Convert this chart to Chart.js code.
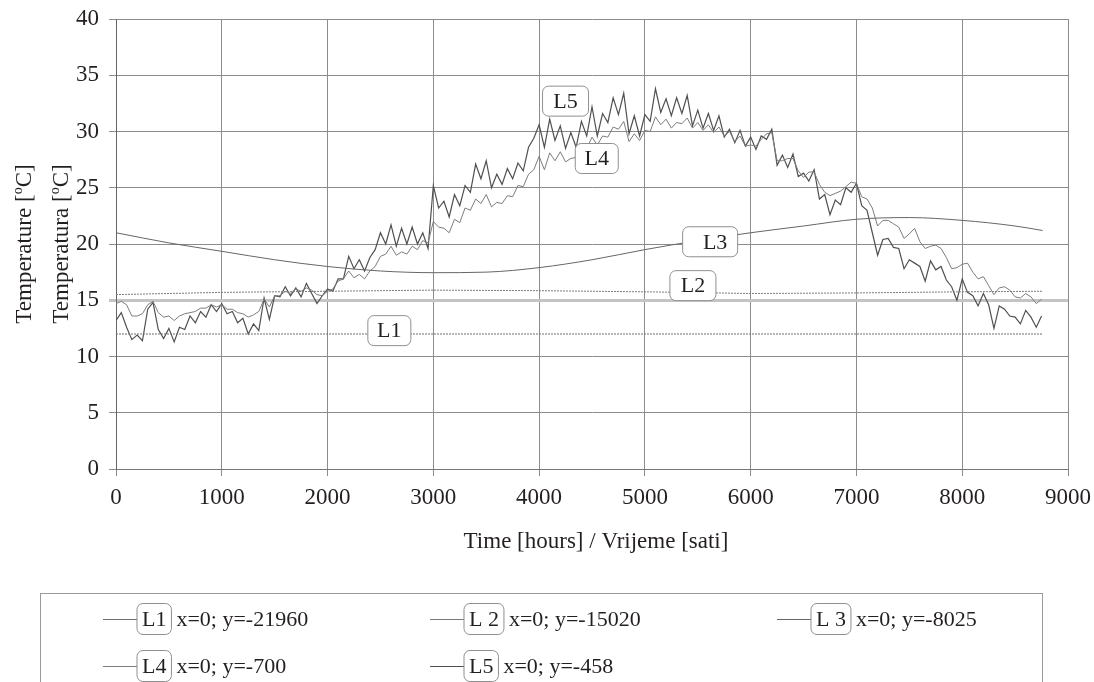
<!DOCTYPE html>
<html>
<head>
<meta charset="utf-8">
<script src="https://cdn.jsdelivr.net/npm/chart.js@4.4.1/dist/chart.umd.min.js"></script>
<style>
  html, body { margin: 0; padding: 0; background: #fff; }
  #wrap { width: 1094px; height: 682px; }
</style>
</head>
<body>
<div id="wrap"><canvas id="chart" width="1094" height="682"></canvas></div>
<script>
// --- data ---
const X_TICK_MAX = 9000;
const Y_TICK_MAX = 40;

// smooth series: hours and temperatures
const L1_HOURS = [0, 8760];
const L1_VALUES = [12.0, 12.0];

const L2_HOURS = [0, 1000, 2000, 3000, 4000, 5000, 6000, 7000, 8000, 8760];
const L2_VALUES = [15.5, 15.7, 15.8, 15.9, 15.85, 15.75, 15.6, 15.65, 15.75, 15.8];

const L3_HOURS = [0, 500, 1000, 1500, 2000, 2500, 3000, 3500, 4000, 4500, 5000, 5500, 6000, 6500, 7000, 7500, 8000, 8500, 8760];
const L3_VALUES = [21.0, 20.1, 19.35, 18.6, 18.0, 17.6, 17.45, 17.5, 17.9, 18.6, 19.5, 20.3, 21.0, 21.6, 22.2, 22.35, 22.1, 21.6, 21.2];

// measured series sampled every 50 hours (0 .. 8750)
const SAMPLE_STEP = 50;
const L4_VALUES = [
  14.7, 14.9, 14.6, 13.6, 13.6, 13.8, 14.6, 14.9, 13.9, 13.5,
  13.6, 13.2, 13.6, 13.8, 13.9, 14.0, 14.3, 14.3, 14.6, 14.4,
  14.6, 14.2, 14.2, 13.9, 13.8, 13.5, 13.7, 14.0, 15.1, 14.4,
  15.4, 15.4, 15.8, 15.6, 16.0, 15.8, 16.1, 15.9, 15.5, 15.4,
  15.8, 16.0, 16.7, 16.9, 17.6, 17.0, 17.3, 16.9, 17.6, 18.0,
  18.9, 19.1, 19.8, 19.0, 19.3, 19.1, 19.8, 19.5, 20.3, 20.1,
  22.0, 21.5, 21.4, 21.0, 22.2, 21.9, 23.2, 23.0, 24.0, 23.6,
  24.4, 23.3, 23.7, 23.6, 24.3, 24.2, 25.2, 25.1, 26.2, 26.6,
  27.8, 26.6, 28.1, 27.4, 28.2, 27.3, 27.6, 27.7, 28.7, 28.5,
  29.5, 28.8, 29.6, 29.5, 30.4, 30.2, 30.9, 29.1, 29.8, 29.2,
  30.1, 30.0, 31.3, 30.6, 31.1, 30.3, 30.8, 30.7, 31.2, 30.3,
  30.8, 30.1, 30.6, 29.9, 30.4, 29.6, 30.0, 29.1, 29.6, 28.7,
  28.8, 28.7, 29.3, 29.8, 29.9, 27.4, 27.4, 27.6, 27.6, 26.5,
  25.9, 26.4, 26.4, 25.3, 24.6, 24.3, 24.5, 24.7, 25.1, 25.5,
  25.4, 24.2, 24.0, 23.2, 21.6, 22.1, 22.1, 21.8, 21.5, 20.5,
  20.9, 21.4, 20.2, 19.6, 19.8, 19.9, 19.6, 18.8, 17.8, 17.9,
  18.2, 18.3, 17.5, 16.9, 17.1, 16.3, 15.5, 16.1, 16.2, 15.9,
  15.3, 15.2, 15.6, 15.3, 14.7, 15.1
];
const L5_VALUES = [
  13.2, 13.9, 12.6, 11.5, 11.9, 11.4, 14.2, 14.8, 12.4, 11.6,
  12.5, 11.3, 12.6, 12.4, 13.6, 13.0, 14.0, 13.5, 14.6, 14.0,
  14.7, 13.8, 14.0, 13.0, 13.4, 12.0, 12.9, 12.3, 15.2, 13.3,
  15.4, 15.3, 16.2, 15.4, 16.1, 15.3, 16.5, 15.6, 14.7, 15.4,
  16.0, 15.8, 16.9, 16.9, 18.9, 17.8, 18.6, 17.6, 18.8, 19.5,
  21.0, 20.0, 21.7, 19.8, 21.4, 20.0, 21.5, 20.0, 21.0, 19.6,
  25.2, 23.2, 23.8, 22.4, 24.4, 23.4, 25.2, 24.6, 27.1, 25.8,
  27.4, 25.0, 26.2, 25.3, 26.7, 25.8, 27.2, 26.5, 28.6, 29.4,
  30.6, 28.6, 31.1, 29.2, 30.5, 28.5, 29.9, 28.6, 30.9, 29.6,
  32.2, 29.6, 31.6, 30.8, 33.0, 31.5, 33.4, 29.8, 31.4, 29.6,
  31.5, 30.9, 33.8, 31.7, 32.9, 31.4, 33.0, 31.6, 33.2, 30.5,
  31.9, 30.3, 31.6, 30.1, 31.4, 29.5, 30.2, 29.0, 30.1, 28.7,
  29.5, 28.4, 29.6, 29.3, 30.2, 27.0, 27.9, 26.8, 28.0, 26.0,
  26.3, 25.6, 26.6, 24.0, 24.4, 22.6, 23.9, 23.5, 25.0, 24.6,
  25.4, 23.4, 23.0, 21.0, 19.0, 20.4, 20.5, 19.7, 19.6, 17.8,
  18.6, 18.3, 18.0, 16.7, 18.5, 17.7, 18.0, 16.8, 16.2, 15.0,
  16.9, 15.7, 15.4, 14.5, 15.6, 14.6, 12.5, 14.5, 14.2, 13.6,
  13.5, 12.9, 14.1, 13.5, 12.6, 13.6
];

const SERIES_NAMES = ['L1', 'L2', 'L3', 'L4', 'L5'];
const LEGEND_NAMES = ['L1', 'L 2', 'L 3', 'L4', 'L5'];
const LEGEND_INFO = ['x=0; y=-21960', 'x=0; y=-15020', 'x=0; y=-8025', 'x=0; y=-700', 'x=0; y=-458'];

const X_TITLE = 'Time [hours] / Vrijeme [sati]';
const Y_TITLES = ['Temperature', 'Temperatura'];
const Y_UNIT = ['[', 'o', 'C]'];

// where the boxed series names sit inside the plot (hours, °C)
const LABEL_ANCHORS = {
  L1: { x: 2584, y: 12.3, w: 43 },
  L2: { x: 5454, y: 16.3, w: 46 },
  L3: { x: 5617, y: 20.2, w: 55, textDx: 5 },
  L4: { x: 4545, y: 27.6, w: 43 },
  L5: { x: 4250, y: 32.7, w: 46 }
};

// --- styles ---
const FONT = '"Liberation Serif", "Times New Roman", serif';
const TEXT_COLOR = '#231f20';
const GRID_COLOR = '#8c8c8c';
const LINE_COLORS = ['#6e6e6e', '#7a7a7a', '#666666', '#7c7c7c', '#505050'];

const toPoints = (hours, values) => values.map((v, i) => ({ x: hours[i], y: v }));
const sampled = values => values.map((v, i) => ({ x: i * SAMPLE_STEP, y: v }));

function roundRect(ctx, x, y, w, h, r) {
  ctx.beginPath();
  ctx.moveTo(x + r, y);
  ctx.arcTo(x + w, y, x + w, y + h, r);
  ctx.arcTo(x + w, y + h, x, y + h, r);
  ctx.arcTo(x, y + h, x, y, r);
  ctx.arcTo(x, y, x + w, y, r);
  ctx.closePath();
}

function nameBox(ctx, text, cx, cy, w, h, textDx) {
  ctx.save();
  roundRect(ctx, cx - w / 2, cy - h / 2, w, h, 6);
  ctx.fillStyle = '#fff';
  ctx.fill();
  ctx.strokeStyle = '#8f8f8f';
  ctx.lineWidth = 1;
  ctx.stroke();
  ctx.fillStyle = TEXT_COLOR;
  ctx.font = '22px ' + FONT;
  ctx.textAlign = 'center';
  ctx.textBaseline = 'middle';
  ctx.fillText(text, cx + (textDx || 0), cy + 1);
  ctx.restore();
}

// "Temperature [°C]" with a raised small o, centred on (0,0) of the current transform
function unitTitle(ctx, word) {
  const big = '23px ' + FONT, small = '14px ' + FONT;
  ctx.font = big;
  const head = word + ' ' + Y_UNIT[0];
  const w1 = ctx.measureText(head).width;
  const w3 = ctx.measureText(Y_UNIT[2]).width;
  ctx.font = small;
  const w2 = ctx.measureText(Y_UNIT[1]).width;
  let x = -(w1 + w2 + w3) / 2;
  ctx.textAlign = 'left';
  ctx.textBaseline = 'alphabetic';
  ctx.font = big;
  ctx.fillText(head, x, 8);
  x += w1;
  ctx.font = small;
  ctx.fillText(Y_UNIT[1], x, -1);
  x += w2;
  ctx.font = big;
  ctx.fillText(Y_UNIT[2], x, 8);
}

const overlay = {
  id: 'overlay',
  afterDatasetsDraw(chart) {
    const ctx = chart.ctx;
    const xs = chart.scales.x, ys = chart.scales.y;
    SERIES_NAMES.forEach(name => {
      const a = LABEL_ANCHORS[name];
      nameBox(ctx, name, xs.getPixelForValue(a.x), ys.getPixelForValue(a.y), a.w, 30, a.textDx);
    });
  },
  afterDraw(chart) {
    const ctx = chart.ctx;
    const area = chart.chartArea;
    ctx.save();
    ctx.fillStyle = TEXT_COLOR;
    ctx.font = '23px ' + FONT;
    ctx.textAlign = 'center';
    ctx.textBaseline = 'middle';
    // axis titles
    ctx.fillText(X_TITLE, 596, area.bottom + 73);
    const midY = (area.top + area.bottom) / 2;
    [area.left - 93, area.left - 56].forEach((x, i) => {
      ctx.save();
      ctx.translate(x, midY);
      ctx.rotate(-Math.PI / 2);
      unitTitle(ctx, Y_TITLES[i]);
      ctx.restore();
    });
    // legend frame
    ctx.strokeStyle = '#9a9a9a';
    ctx.lineWidth = 1;
    ctx.strokeRect(40.5, 593.5, 1002, 120);
    const cols = [103, 430, 777];
    const rows = [619, 666];
    chart.data.datasets.forEach((ds, i) => {
      const x = cols[i % 3], y = rows[Math.floor(i / 3)];
      ctx.strokeStyle = ds.borderColor;
      ctx.beginPath();
      ctx.moveTo(x, y + 0.5);
      ctx.lineTo(x + 34, y + 0.5);
      ctx.stroke();
      ctx.font = '22px ' + FONT;
      const tw = ctx.measureText(LEGEND_NAMES[i]).width;
      const bw = tw + 10;
      nameBox(ctx, LEGEND_NAMES[i], x + 34 + bw / 2, y, bw, 31, 0);
      ctx.fillStyle = TEXT_COLOR;
      ctx.font = '22px ' + FONT;
      ctx.textAlign = 'left';
      ctx.textBaseline = 'middle';
      ctx.fillText(LEGEND_INFO[i], x + 34 + bw + 5, y + 1);
    });
    ctx.restore();
  }
};

const seriesData = [
  toPoints(L1_HOURS, L1_VALUES),
  toPoints(L2_HOURS, L2_VALUES),
  toPoints(L3_HOURS, L3_VALUES),
  sampled(L4_VALUES),
  sampled(L5_VALUES)
];

new Chart(document.getElementById('chart'), {
  type: 'line',
  data: {
    datasets: SERIES_NAMES.map((name, i) => ({
      label: name,
      data: seriesData[i],
      borderColor: LINE_COLORS[i],
      borderWidth: i === 4 ? 1.2 : 1,
      borderDash: i < 2 ? [2, 1] : [],
      pointRadius: 0,
      tension: i === 2 ? 0.4 : 0,
      cubicInterpolationMode: i === 2 ? 'monotone' : 'default',
      fill: false
    }))
  },
  options: {
    responsive: false,
    animation: false,
    events: [],
    layout: { padding: { left: 0, right: 26, top: 19, bottom: 0 } },
    plugins: { legend: { display: false }, tooltip: { enabled: false } },
    scales: {
      x: {
        type: 'linear',
        min: 0,
        max: X_TICK_MAX,
        afterFit: s => { s.height = 213; s.paddingLeft = 0; s.paddingRight = 0; },
        border: { color: '#777', width: 1 },
        grid: { color: GRID_COLOR, lineWidth: 1, tickLength: 7 },
        ticks: {
          stepSize: 1000, padding: 8, color: TEXT_COLOR, maxRotation: 0,
          font: { family: FONT, size: 23 },
          callback: v => String(v)
        }
      },
      y: {
        min: 0,
        max: Y_TICK_MAX,
        afterFit: s => { s.width = 116; s.paddingTop = 0; s.paddingBottom = 0; },
        border: { color: '#666', width: 1 },
        grid: {
          color: ctx => (ctx.tick && ctx.tick.value === 15 ? '#c4c4c4' : GRID_COLOR),
          lineWidth: ctx => (ctx.tick && ctx.tick.value === 15 ? 3 : 1),
          tickLength: 7
        },
        ticks: {
          stepSize: 5, padding: 10, color: TEXT_COLOR,
          font: { family: FONT, size: 23 },
          callback: v => String(v)
        }
      }
    }
  },
  plugins: [overlay]
});
</script>
</body>
</html>
